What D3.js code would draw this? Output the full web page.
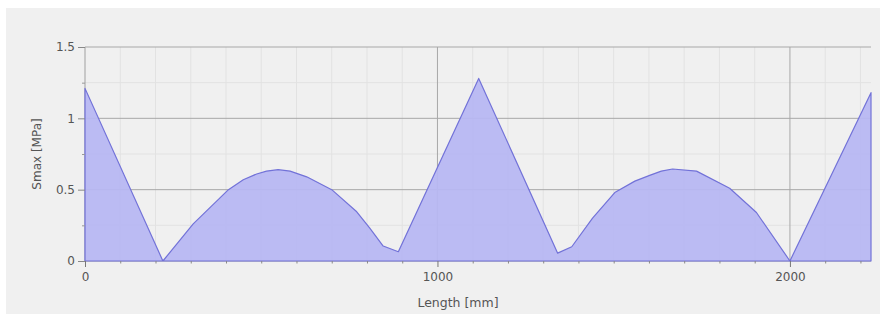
<!DOCTYPE html>
<html>
<head>
<meta charset="utf-8">
<script src="https://cdn.jsdelivr.net/npm/d3@7"></script>
<style>
  body { margin: 0; background: #fff; }
  svg { display: block; font-family: "DejaVu Sans", sans-serif; }
</style>
</head>
<body>
<div id="chart"></div>
<script>
// Posiciones a lo largo de la viga (mm) y tensión máxima (MPa)
const lengthMm = [0, 221, 307, 407, 449, 487, 515, 548, 582, 629, 700, 771, 808, 846, 889, 1117, 1341, 1381, 1440, 1503, 1560, 1602, 1635, 1667, 1735, 1829, 1905, 2000, 2230];
const smaxMPa  = [1.21, 0, 0.26, 0.5, 0.57, 0.61, 0.63, 0.64, 0.63, 0.59, 0.5, 0.345, 0.23, 0.105, 0.065, 1.28, 0.055, 0.1, 0.3, 0.48, 0.56, 0.6, 0.63, 0.645, 0.63, 0.51, 0.34, 0, 1.18];

const xMajor = [0, 1000, 2000];
const yMajor = [0, 0.5, 1, 1.5];
const yTickLabels = ["0", "0.5", "1", "1.5"];

const width = 888, height = 320;
const margin = { top: 47, right: 17, bottom: 59, left: 85 };

const svg = d3.select("#chart").append("svg")
  .attr("width", width)
  .attr("height", height);

// panel gris
svg.append("rect")
  .attr("x", 6).attr("y", 8)
  .attr("width", 874).attr("height", 306)
  .attr("fill", "#f0f0f0");

const x = d3.scaleLinear().domain([0, 2230]).range([margin.left, width - margin.right]);
const y = d3.scaleLinear().domain([0, 1.5]).range([height - margin.bottom, margin.top]);

const g = svg.append("g");

// rejilla menor
const xMinor = d3.range(100, 2230, 100).filter(v => v % 1000 !== 0);
g.selectAll(".vminor").data(xMinor).enter().append("line")
  .attr("x1", d => x(d)).attr("x2", d => x(d))
  .attr("y1", y(0)).attr("y2", y(1.5))
  .attr("stroke", "#e2e2e2").attr("stroke-width", 1);

const yMinor = [0.25, 0.75, 1.25];
g.selectAll(".hminor").data(yMinor).enter().append("line")
  .attr("x1", x(0)).attr("x2", x(2230))
  .attr("y1", d => y(d)).attr("y2", d => y(d))
  .attr("stroke", "#e2e2e2").attr("stroke-width", 1);

// rejilla mayor
g.selectAll(".vmajor").data(xMajor.filter(d => d > 0)).enter().append("line")
  .attr("x1", d => x(d)).attr("x2", d => x(d))
  .attr("y1", y(0)).attr("y2", y(1.5))
  .attr("stroke", "#a8a8a8").attr("stroke-width", 1);

g.selectAll(".hmajor").data(yMajor.filter(d => d > 0)).enter().append("line")
  .attr("x1", x(0)).attr("x2", x(2230))
  .attr("y1", d => y(d)).attr("y2", d => y(d))
  .attr("stroke", "#a8a8a8").attr("stroke-width", 1);

// ejes
g.append("line")
  .attr("x1", x(0)).attr("x2", x(0))
  .attr("y1", y(0)).attr("y2", y(1.5))
  .attr("stroke", "#a0a0a0");
g.append("line")
  .attr("x1", x(0)).attr("x2", x(2230))
  .attr("y1", y(0)).attr("y2", y(0))
  .attr("stroke", "#a0a0a0");

// área de datos
const pts = lengthMm.map((d, i) => [d, smaxMPa[i]]);
const area = d3.area()
  .x(d => x(d[0]))
  .y0(y(0))
  .y1(d => y(d[1]));

g.append("path")
  .datum(pts)
  .attr("d", area)
  .attr("fill", "#b7b7f2")
  .attr("fill-opacity", 0.95)
  .attr("stroke", "#7272d8")
  .attr("stroke-width", 1.2)
  .attr("stroke-linejoin", "round");

// ticks eje X
const xAxis = d3.axisBottom(x).tickValues(xMajor).tickSize(6).tickFormat(d3.format("d"));
const gx = g.append("g").attr("transform", `translate(0,${y(0)})`).call(xAxis);
gx.select(".domain").remove();
gx.selectAll(".tick line").attr("stroke", "#777");
gx.selectAll(".tick text").attr("fill", "#555").attr("font-size", 12).attr("dy", "0.95em")
  .attr("font-family", "DejaVu Sans, sans-serif");

const xMinorAxis = d3.axisBottom(x).tickValues(xMinor).tickSize(2.5).tickFormat("");
const gxm = g.append("g").attr("transform", `translate(0,${y(0)})`).call(xMinorAxis);
gxm.select(".domain").remove();
gxm.selectAll(".tick line").attr("stroke", "#888");

// ticks eje Y
const yAxis = d3.axisLeft(y).tickValues(yMajor).tickSize(7)
  .tickFormat((d, i) => yTickLabels[i]);
const gy = g.append("g").attr("transform", `translate(${x(0)},0)`).call(yAxis);
gy.select(".domain").remove();
gy.selectAll(".tick line").attr("stroke", "#888");
gy.selectAll(".tick text").attr("fill", "#555").attr("font-size", 12).attr("x", -10)
  .attr("font-family", "DejaVu Sans, sans-serif");

const yMinorAxis = d3.axisLeft(y).tickValues(yMinor).tickSize(3).tickFormat("");
const gym = g.append("g").attr("transform", `translate(${x(0)},0)`).call(yMinorAxis);
gym.select(".domain").remove();
gym.selectAll(".tick line").attr("stroke", "#999");

// títulos de ejes
svg.append("text")
  .attr("x", 458).attr("y", 303)
  .attr("text-anchor", "middle")
  .attr("dominant-baseline", "middle")
  .attr("font-size", 12.5)
  .attr("fill", "#555")
  .text("Length [mm]");

svg.append("text")
  .attr("transform", `translate(37,${(y(0) + y(1.5)) / 2}) rotate(-90)`)
  .attr("text-anchor", "middle")
  .attr("dominant-baseline", "middle")
  .attr("font-size", 12)
  .attr("fill", "#555")
  .text("Smax [MPa]");
</script>
</body>
</html>
